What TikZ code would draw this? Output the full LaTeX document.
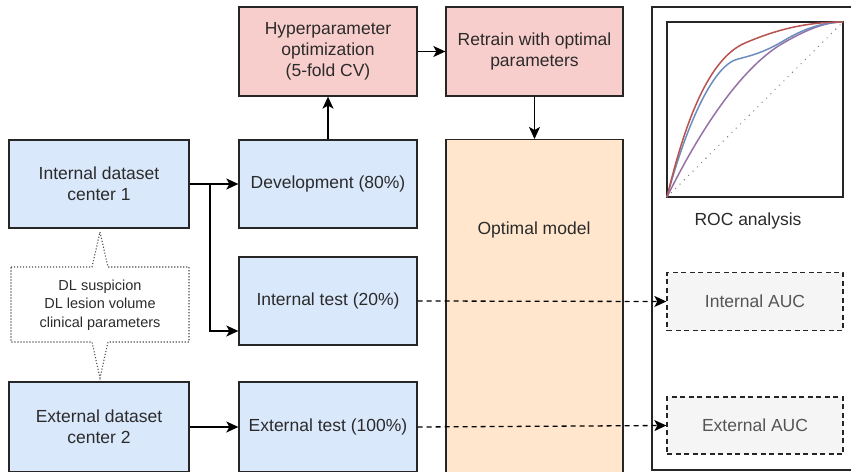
\documentclass[tikz,border=0pt]{standalone}
\usepackage{fontspec}
\setmainfont{Liberation Sans}
\usetikzlibrary{arrows.meta,calc}
\definecolor{bluefill}{HTML}{DAE8FC}
\definecolor{redfill}{HTML}{F8CECC}
\definecolor{orangefill}{HTML}{FFE6CC}
\definecolor{grayfill}{HTML}{F5F5F5}
\definecolor{txt}{HTML}{2B2B2B}
\definecolor{edge}{HTML}{262626}
\definecolor{rocred}{HTML}{B85450}
\definecolor{rocblue}{HTML}{6C8EBF}
\definecolor{rocpurple}{HTML}{9673A6}
\tikzset{
  box/.style={draw=edge, line width=1.3pt, rectangle, minimum width=178pt, minimum height=88pt,
    align=center, text=txt, font=\fontsize{17.5}{21}\selectfont, inner sep=2pt},
  bluebox/.style={box, fill=bluefill},
  redbox/.style={box, fill=redfill},
  aucbox/.style={box, fill=grayfill, dash pattern=on 5pt off 3.5pt, minimum width=176pt, minimum height=58pt, text=txt!80},
  arr/.style={line width=1.3pt, draw=black, -{Stealth[length=12pt,width=11pt,inset=3pt]}},
  darr/.style={arr, dash pattern=on 5pt off 4pt},
  roc/.style={line width=1.5pt},
}
\begin{document}
\begin{tikzpicture}[x=1pt,y=-1pt]
\clip (0,0) rectangle (851,471);
\fill[white] (0,0) rectangle (851,471);

% outer right panel
\draw[edge, line width=1.3pt] (652,7) rectangle (870,470);

% left column
\node[bluebox, minimum width=180pt] (ids) at (99,184) {Internal dataset\\center 1};
\node[bluebox, minimum width=180pt, minimum height=90pt] (eds) at (99,427) {External dataset\\center 2};

% callout
\draw[black!70, line width=1.1pt, dash pattern=on 1.1pt off 1.9pt]
  (11,267) -- (92,267) -- (100,232) coordinate (cup) -- (108,267) -- (189,267) -- (189,342)
  -- (108,342) -- (100,378) coordinate (cdown) -- (92,342) -- (11,342) -- cycle;
\node[text=txt, align=center, font=\fontsize{14.5}{18.5}\selectfont] (callout) at (100,305)
  {DL suspicion\\DL lesion volume\\clinical parameters};

% second column
\node[bluebox] (dev) at (328,184) {Development (80\%)};
\node[bluebox] (itest) at (328,301) {Internal test (20\%)};
\node[bluebox, minimum height=90pt] (etest) at (328,427) {External test (100\%)};
\node[redbox, minimum height=89pt] (hyp) at (328,51.5) {Hyperparameter\\optimization\\(5-fold CV)};
\node[redbox, minimum width=177pt, minimum height=89pt] (ret) at (534.5,51.5) {Retrain with optimal\\parameters};

% optimal model
\node[box, fill=orangefill, minimum width=177pt, minimum height=340pt, anchor=north] (opt) at (534.5,139) {};
\node[text=txt, font=\fontsize{17.5}{21}\selectfont] (optlbl) at (534,230) {Optimal model};

% ROC plot
\draw[edge, line width=1.3pt] (667,22) rectangle (843,197);
\coordinate (o) at (667,197);
\coordinate (e) at (843,22);
\draw[gray, line width=1.4pt, dash pattern=on 0.1pt off 6pt, line cap=round] (o) -- (e);
\draw[roc, rocpurple] (o) .. controls (700,130) and (740,70) .. (780,45)
  .. controls (805,30) and (825,22) .. (e);
\draw[roc, rocblue] (o) .. controls (685,130) and (712,65) .. (738,59)
  .. controls (758,54) and (768,50) .. (785,40)
  .. controls (805,28) and (825,22) .. (e);
\draw[roc, rocred] (o) .. controls (682,135) and (705,60) .. (745,43)
  .. controls (780,28) and (810,22) .. (e);
\node[text=txt, font=\fontsize{17.5}{21}\selectfont] (roclbl) at (748,221) {ROC analysis};

% AUC boxes
\node[aucbox] (iauc) at (755,301.5) {Internal AUC};
\node[aucbox, minimum height=57pt] (eauc) at (755,425.5) {External AUC};

% connectors
\draw[arr] (ids.east) -- (dev.west);
\coordinate (br) at (210,184);
\draw[arr] (br) |- ([yshift=-30pt]itest.west);
\draw[arr] (eds.east) -- (etest.west);
\draw[arr] (dev.north) -- (hyp.south);
\draw[arr] (hyp.east) -- (ret.west);
\draw[arr] (ret.south) -- (opt.north);
\draw[darr] (itest.east) -- (iauc.west);
\draw[darr] (etest.east) -- (eauc.west);
\end{tikzpicture}
\end{document}
